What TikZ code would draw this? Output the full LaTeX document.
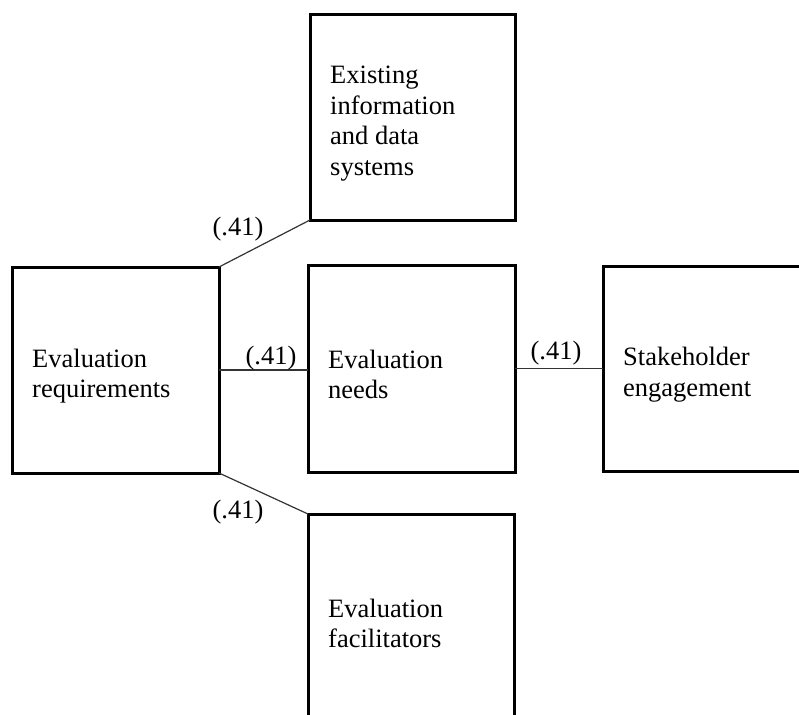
\documentclass[tikz,border=0pt]{standalone}
\usepackage{fontspec}
\setmainfont{Liberation Serif}
\begin{document}
\begin{tikzpicture}[x=1pt,y=-1pt,
  box/.style={draw, line width=3pt, outer sep=0pt, inner sep=0pt},
  txt/.style={anchor=west, inner sep=0pt, align=left, font=\fontsize{26.5}{30.5}\selectfont, xshift=20pt, yshift=-6pt},
  conn/.style={line width=1.2pt, black!80},
  lab/.style={inner sep=0pt, font=\fontsize{26.5}{30.5}\selectfont}]
\useasboundingbox (0,0) rectangle (799,714);
% boxes
\node[box, minimum width=207pt, minimum height=206pt] (a) at (115.5,370) {};
\node[box, minimum width=205pt, minimum height=205pt] (b) at (412.5,117.5) {};
\node[box, minimum width=207pt, minimum height=207pt] (c) at (411.5,368.5) {};
\node[box, minimum width=207pt, minimum height=205pt] (d) at (706.5,368.5) {};
\node[box, minimum width=206pt, minimum height=207pt] (e) at (411,617.5) {};
% texts
\node[txt] (ta) at (a.west) {Evaluation\\requirements};
\node[txt] (tb) at (b.west) {Existing\\information\\and data\\systems};
\node[txt] (tc) at (c.west) {Evaluation\\needs};
\node[txt] (td) at (d.west) {Stakeholder\\engagement};
\node[txt] (te) at (e.west) {Evaluation\\facilitators};
% connectors
\draw[conn] (a.north east) -- (b.south west);
\draw[conn] (a.east) -- (a.east -| c.west);
\draw[conn] (c.east) -- (c.east -| d.west);
\draw[conn] (a.south east) -- (e.north west);
% labels
\node[lab] (l1) at (238,229) {(.41)};
\node[lab] (l2) at (271,358) {(.41)};
\node[lab] (l3) at (556,353) {(.41)};
\node[lab] (l4) at (238,512) {(.41)};
\end{tikzpicture}
\end{document}
